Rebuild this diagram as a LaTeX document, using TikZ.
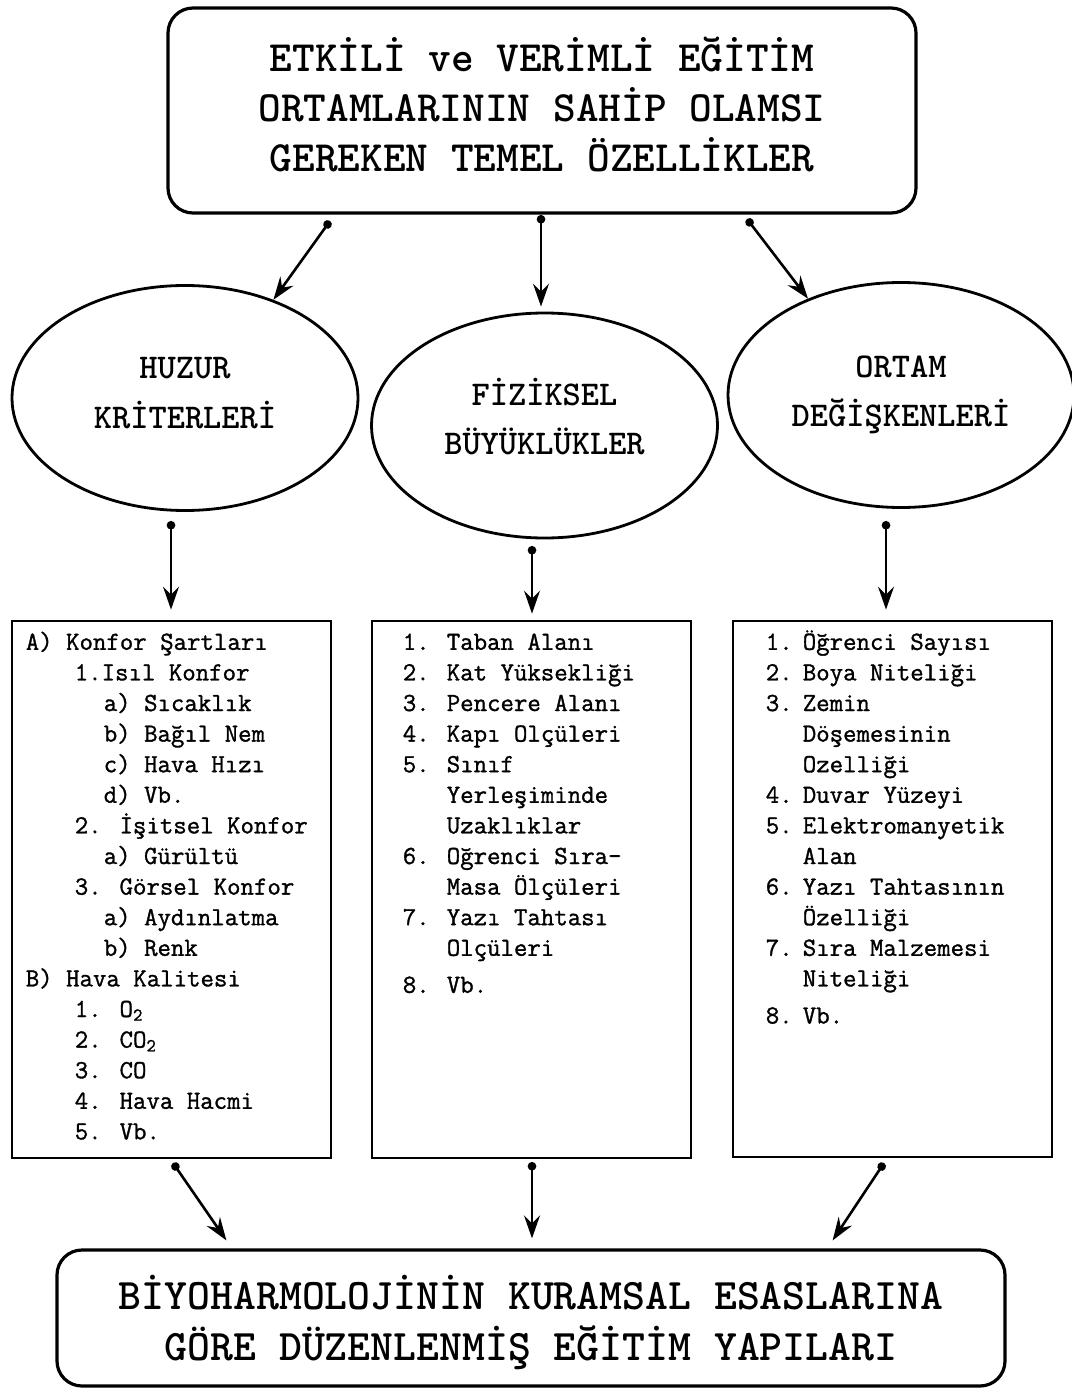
\documentclass[tikz,border=0pt]{standalone}
\usepackage{fontspec}
\newfontfamily\listefont[FakeBold=1.2]{Latin Modern Mono}
\usetikzlibrary{shapes,arrows.meta}
\usetikzlibrary{positioning}

\tikzset{
  kutu/.style={draw, line width=2.8pt, inner sep=0pt},
  yuvarlak/.style={draw, line width=3.2pt, rounded corners=25pt, align=center},
  elips/.style={draw, ellipse, line width=2.8pt, minimum width=346pt, minimum height=225pt,
    inner sep=0pt, align=center, font=\ttfamily\bfseries\fontsize{34.7}{49.5}\selectfont},
  liste/.style={anchor=north west, inner sep=0pt, align=left,
    font=\listefont\fontsize{26.1}{30.6}\selectfont},
  ok/.style={line width=2.6pt, {Circle[length=8.5pt]}-{Stealth[length=23pt,width=16pt,inset=8pt]}}
}

\begin{document}
\begin{tikzpicture}[x=1pt,y=-1pt]
\useasboundingbox (0,0) rectangle (1071,1388);

\node[yuvarlak, minimum width=748pt, minimum height=205pt, text depth=12pt,
  font=\ttfamily\bfseries\fontsize{43.2}{50}\selectfont] (etkin) at (542,110.5)
  {ETKİLİ ve VERİMLİ EĞİTİM\\ORTAMLARININ SAHİP OLAMSI\\GEREKEN TEMEL ÖZELLİKLER};

% uc ana baslik
\node[elips, text depth=10pt] (huzur) at (185,398) {HUZUR\\KRİTERLERİ};
\node[elips, text depth=18pt] (fiziksel) at (544.5,425.5) {FİZİKSEL\\BÜYÜKLÜKLER};
\node[elips] (ortam) at (901,395) {ORTAM\\DEĞİŞKENLERİ};

\node[kutu, minimum width=319pt, minimum height=537pt] (konfor) at (171.5,889.5) {};
\node[kutu, minimum width=319pt, minimum height=537pt] (olcu) at (531.5,889.5) {};
\node[kutu, minimum width=319pt, minimum height=536pt] (degisken) at (892.5,889) {};

\node[liste] (l1) at ([xshift=15pt,yshift=-10pt]konfor.north west) {%
  \vrule height 20pt width 0pt A) Konfor Şartları\\
  \hspace*{49pt}1.Isıl Konfor\\
  \hspace*{78pt}a) Sıcaklık\\
  \hspace*{78pt}b) Bağıl Nem\\
  \hspace*{78pt}c) Hava Hızı\\
  \hspace*{78pt}d) Vb.\\
  \hspace*{49pt}2. İşitsel Konfor\\
  \hspace*{78pt}a) Gürültü\\
  \hspace*{49pt}3. Görsel Konfor\\
  \hspace*{78pt}a) Aydınlatma\\
  \hspace*{78pt}b) Renk\\
  B) Hava Kalitesi\\
  \hspace*{49pt}1. O\textsubscript{2}\\
  \hspace*{49pt}2. CO\textsubscript{2}\\
  \hspace*{49pt}3. CO\\
  \hspace*{49pt}4. Hava Hacmi\\
  \hspace*{49pt}5. Vb.};

\node[liste] (l2) at ([xshift=32pt,yshift=-10pt]olcu.north west) {%
  \vrule height 20pt width 0pt\makebox[44pt][l]{1.}Taban Alanı\\
  \makebox[44pt][l]{2.}Kat Yüksekliği\\
  \makebox[44pt][l]{3.}Pencere Alanı\\
  \makebox[44pt][l]{4.}Kapı Olçüleri\\
  \makebox[44pt][l]{5.}Sınıf\\
  \hspace*{44pt}Yerleşiminde\\
  \hspace*{44pt}Uzaklıklar\\
  \makebox[44pt][l]{6.}Oğrenci Sıra-\\
  \hspace*{44pt}Masa Ölçüleri\\
  \makebox[44pt][l]{7.}Yazı Tahtası\\
  \hspace*{44pt}Olçüleri\\[6.4pt]
  \makebox[44pt][l]{8.}Vb.};

\node[liste] (l3) at ([xshift=34pt,yshift=-10pt]degisken.north west) {%
  \vrule height 20pt width 0pt\makebox[37pt][l]{1.}Öğrenci Sayısı\\
  \makebox[37pt][l]{2.}Boya Niteliği\\
  \makebox[37pt][l]{3.}Zemin\\
  \hspace*{37pt}Döşemesinin\\
  \hspace*{37pt}Ozelliği\\
  \makebox[37pt][l]{4.}Duvar Yüzeyi\\
  \makebox[37pt][l]{5.}Elektromanyetik\\
  \hspace*{37pt}Alan\\
  \makebox[37pt][l]{6.}Yazı Tahtasının\\
  \hspace*{37pt}Özelliği\\
  \makebox[37pt][l]{7.}Sıra Malzemesi\\
  \hspace*{37pt}Niteliği\\[6.5pt]
  \makebox[37pt][l]{8.}Vb.};

\node[yuvarlak, minimum width=948pt, minimum height=136pt, text depth=0pt,
  font=\ttfamily\bfseries\fontsize{43.6}{51}\selectfont] (yapi) at (531,1318)
  {BİYOHARMOLOJİNİN KURAMSAL ESASLARINA\\GÖRE DÜZENLENMİŞ EĞİTİM YAPILARI};

% oklar
\coordinate (a1) at (330,221);
\coordinate (a2) at (541,215);
\coordinate (a3) at (747,219);
\draw[ok] (a1) -- (huzur.48);
\draw[ok, shorten >=5pt] (a2) -- (a2 |- fiziksel.north);
\draw[ok] (a3) -- (ortam.134);

\coordinate (b1) at (171,521);
\coordinate (b2) at (532,546);
\coordinate (b3) at (886,521);
\draw[ok, shorten >=10pt] (b1) -- (b1 |- konfor.north);
\draw[ok, shorten >=6pt] (b2) -- (b2 |- olcu.north);
\draw[ok, shorten >=10pt] (b3) -- (b3 |- degisken.north);

\coordinate (c1) at (173,1163);
\coordinate (c2) at (532,1162);
\coordinate (c3) at (884,1163);
\draw[ok] (c1) -- ([xshift=171pt,yshift=8pt]yapi.north west);
\draw[ok, shorten >=10pt] (c2) -- (c2 |- yapi.north);
\draw[ok] (c3) -- ([xshift=-174pt,yshift=8pt]yapi.north east);
\end{tikzpicture}
\end{document}
